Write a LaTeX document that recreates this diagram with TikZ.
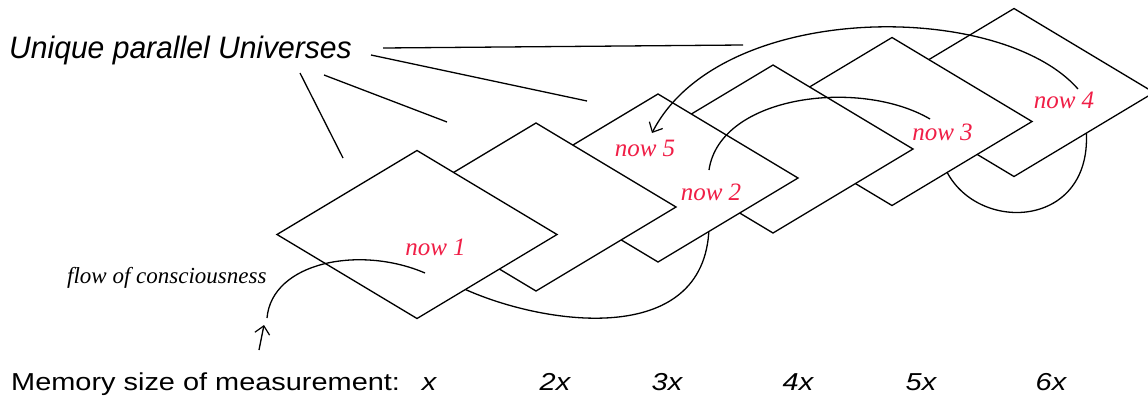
\documentclass[tikz,border=0pt]{standalone}
\usepackage{fontspec}
\setmainfont{Liberation Serif}
\setsansfont{Liberation Sans}
\usetikzlibrary{arrows.meta}
\definecolor{nowred}{RGB}{240,30,70}
\begin{document}
\begin{tikzpicture}[x=1pt,y=-1pt,
  uni/.style={draw=black, fill=white, line width=1.3pt, line join=miter},
  ln/.style={line width=1.3pt, black},
  arr/.style={-{Straight Barb[length=8pt,width=15pt,line width=1.2pt]}},
  nowlbl/.style={text=nowred, font=\rmfamily\itshape\fontsize{25}{29}\selectfont, inner sep=0pt, anchor=base},
  memlbl/.style={font=\sffamily\fontsize{24.5}{28}\selectfont, xscale=1.18, inner sep=0pt, anchor=base},
  memx/.style={font=\sffamily\itshape\fontsize{24.5}{28}\selectfont, xscale=1.18, inner sep=0pt, anchor=base}]
\useasboundingbox (0,0) rectangle (1148,399);
\clip (0,0) rectangle (1148,399);

% curves running beneath the universes
\coordinate (c4a) at (945,168);
\coordinate (c4b) at (1086,128);
\draw[ln] (c4a) .. controls (975,235) and (1095,230) .. (c4b);
\coordinate (c2a) at (460,287);
\coordinate (c2b) at (709,228);
\draw[ln] (c2a) .. controls (540,325) and (705,350) .. (c2b);

% universes, back to front
\foreach \n/\cx/\cy in {6/1014/92.5, 5/892/121.5, 4/773/149, 3/658/178, 2/536/207, 1/417/234.5}{
  \coordinate (u\n) at (\cx,\cy);
  \filldraw[uni] (u\n) ++(-140,0) -- ++(140,-84) -- ++(140,84) -- ++(-140,84) -- cycle;
}

% labels
\node[nowlbl] (now1) at (435.5,255) {now 1};
\node[nowlbl] (now5) at (645,156) {now 5};
\node[nowlbl] (now2) at (711,200) {now 2};
\node[nowlbl] (now3) at (942.5,140) {now 3};
\node[nowlbl] (now4) at (1064,108) {now 4};

% curves on top
\coordinate (c1a) at (267,318);
\coordinate (c1b) at (425,273);
\draw[ln] (c1a) .. controls (272,262) and (360,245) .. (c1b);
\coordinate (s1) at (259,350);
\coordinate (s2) at (264,325);
\draw[ln, arr] (s1) -- (s2);
\coordinate (c3a) at (709,170);
\coordinate (c3b) at (930,119);
\draw[ln] (c3a) .. controls (720,95) and (860,78) .. (c3b);
\coordinate (c5a) at (1078,89);
\coordinate (c5b) at (652,133);
\draw[ln, arr] (c5a) .. controls (1000,0) and (720,0) .. (c5b);

% title and its pointer lines
\node[font=\sffamily\itshape\fontsize{31}{36}\selectfont, xscale=0.97, anchor=base west, inner sep=0pt] (title) at (9,58) {Unique parallel Universes};
\coordinate (l1a) at (383,48); \coordinate (l1b) at (743,45);
\coordinate (l2a) at (371,55); \coordinate (l2b) at (587,101);
\coordinate (l3a) at (324,75); \coordinate (l3b) at (447,122);
\coordinate (l4a) at (300,73); \coordinate (l4b) at (343,158);
\draw[ln] (l1a) -- (l1b);
\draw[ln] (l2a) -- (l2b);
\draw[ln] (l3a) -- (l3b);
\draw[ln] (l4a) -- (l4b);

\node[font=\rmfamily\itshape\fontsize{23}{27}\selectfont, anchor=base west, inner sep=0pt] (flow) at (67,283) {flow of consciousness};

% memory sizes
\node[memlbl, anchor=base west] (mem) at (11,390) {Memory size of measurement:};
\node[memx] (m1) at (429,390) {x};
\node[memx] (m2) at (555,390) {2x};
\node[memx] (m3) at (667,390) {3x};
\node[memx] (m4) at (798,390) {4x};
\node[memx] (m5) at (921,390) {5x};
\node[memx] (m6) at (1051,390) {6x};
\end{tikzpicture}
\end{document}
